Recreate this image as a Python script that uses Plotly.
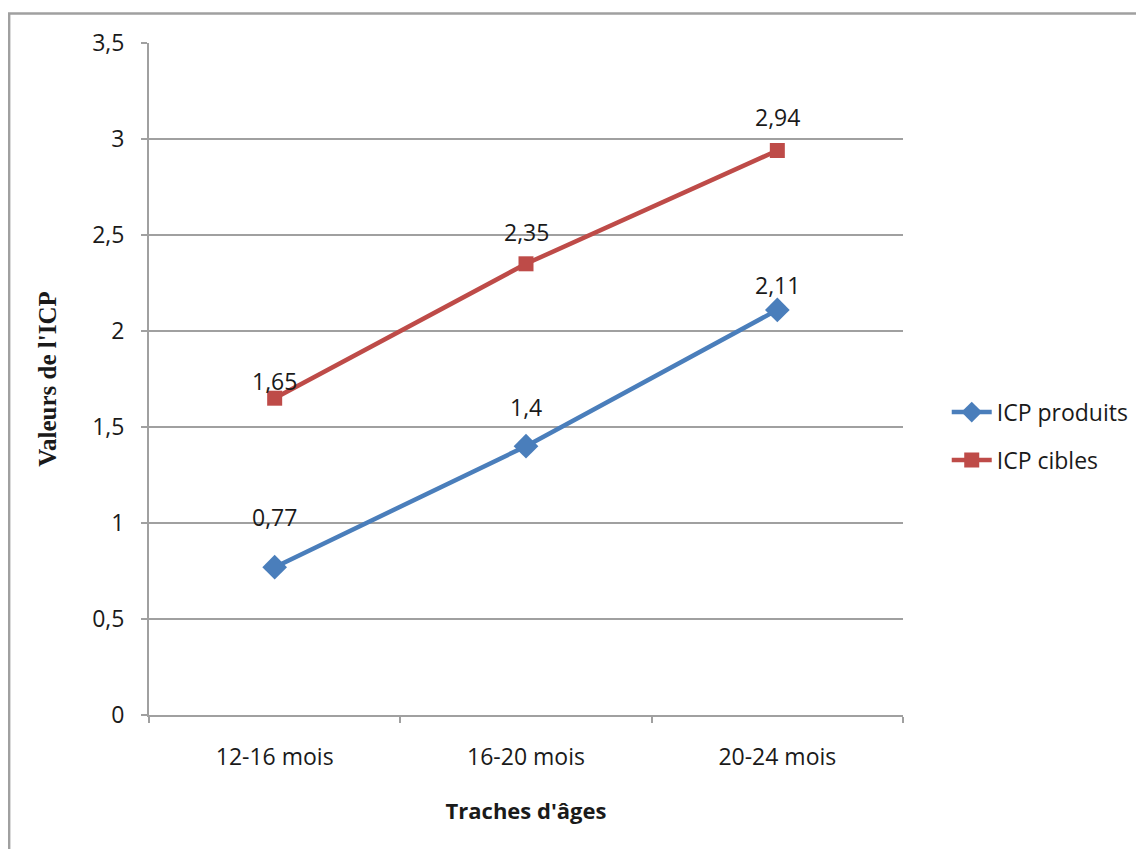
import plotly.graph_objects as go

categories = ["12-16 mois", "16-20 mois", "20-24 mois"]
icp_produits = [0.77, 1.4, 2.11]
icp_cibles = [1.65, 2.35, 2.94]
labels_produits = ["0,77", "1,4", "2,11"]
labels_cibles = ["1,65", "2,35", "2,94"]
yticks = [0, 0.5, 1, 1.5, 2, 2.5, 3, 3.5]

BLUE = "#4A7EBB"
RED = "#BE4B48"
GRID = "#A0A0A0"
TXT = "#1a1a1a"
FONT = "Open Sans"

fig = go.Figure()
fig.add_trace(go.Scatter(
    x=categories, y=icp_produits, name="ICP produits", mode="lines+markers",
    legendgroup="p",
    line=dict(color=BLUE, width=4.5),
    marker=dict(symbol="diamond", size=19, color=BLUE),
))
fig.add_trace(go.Scatter(
    x=categories, y=icp_cibles, name="ICP cibles", mode="lines+markers",
    legendgroup="c",
    line=dict(color=RED, width=4.5),
    marker=dict(symbol="square", size=15, color=RED),
))

shifts_p = [50, 39, 25]
shifts_c = [17, 32, 34]
for c, v, t, s in zip(categories, icp_produits, labels_produits, shifts_p):
    fig.add_annotation(x=c, y=v, text=t, showarrow=False, yshift=s,
                       font=dict(family=FONT, size=23, color=TXT))
for c, v, t, s in zip(categories, icp_cibles, labels_cibles, shifts_c):
    fig.add_annotation(x=c, y=v, text=t, showarrow=False, yshift=s,
                       font=dict(family=FONT, size=23, color=TXT))

# outer frame
fig.add_shape(type="rect", xref="paper", yref="paper",
              x0=-0.1855, x1=1.5, y0=-0.5, y1=1.0439,
              line=dict(color="#A0A0A0", width=2.5), layer="below")

fig.update_layout(
    width=1138, height=841,
    margin=dict(l=141, r=243, t=35, b=134),
    paper_bgcolor="white", plot_bgcolor="white",
    separators=", ",
    font=dict(family=FONT, size=23, color=TXT),
    showlegend=True,
    legend=dict(x=1.058, y=0.415, xanchor="left", yanchor="middle",
                font=dict(family=FONT, size=23, color=TXT),
                tracegroupgap=15, itemwidth=40),
    xaxis=dict(
        type="category", range=[-0.5, 2.5],
        showgrid=False, showline=True, linecolor=GRID, linewidth=2,
        ticks="outside", tickson="boundaries", ticklen=6, tickcolor=GRID, tickwidth=2,
        ticklabelstandoff=20,
        title=dict(text="<b>Traches d'âges</b>", font=dict(family=FONT, size=22, color=TXT),
                   standoff=33),
    ),
    yaxis=dict(
        range=[0, 3.5], tickvals=yticks,
        showgrid=True, gridcolor=GRID, gridwidth=2,
        showline=True, linecolor=GRID, linewidth=2,
        ticks="outside", ticklen=6, tickcolor=GRID, tickwidth=2,
        ticklabelstandoff=12, zeroline=False,
        title=dict(text="<b>Valeurs de l'ICP</b>",
                   font=dict(family="Liberation Serif", size=25, color=TXT),
                   standoff=28),
    ),
)

fig.write_html("out.html")
